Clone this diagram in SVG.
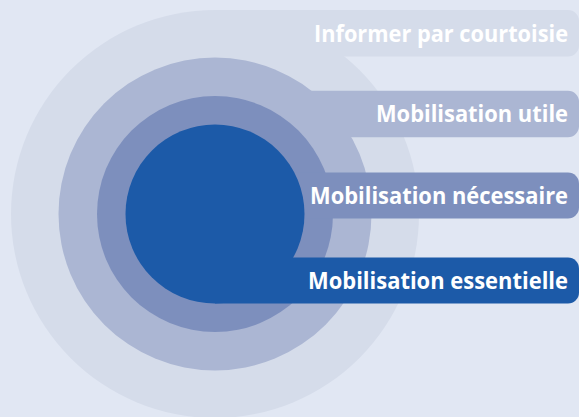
<svg xmlns="http://www.w3.org/2000/svg" width="579" height="417" viewBox="0 0 579 417">
  <style>
    .lvl1 { fill: #d5dcea; }
    .lvl2 { fill: #abb6d3; }
    .lvl3 { fill: #7d8fbd; }
    .lvl4 { fill: #1c5aa8; }
    .label { font-family: "Open Sans", "Liberation Sans", sans-serif; font-weight: bold; font-size: 22.5px; fill: #ffffff; text-anchor: end; }
    .label.short { font-size: 23px; }
  </style>
  <rect x="0" y="0" width="579" height="417" fill="#e1e7f3"/>

  <!-- outermost level: disc plus a tab running to the right edge -->
  <g id="informer">
    <circle class="lvl1" cx="215" cy="214" r="204"/>
    <path class="lvl1" d="M215,10 H568 A11,11 0 0 1 579,21 V45.5 A11,11 0 0 1 568,56.5 H215 Z"/>
    <text class="label" x="568" y="41.7" textLength="254" lengthAdjust="spacingAndGlyphs">Informer par courtoisie</text>
  </g>

  <g id="utile">
    <circle class="lvl2" cx="215" cy="214" r="156.5"/>
    <path class="lvl2" d="M215,90.7 H568 A11,11 0 0 1 579,101.7 V126.3 A11,11 0 0 1 568,137.3 H215 Z"/>
    <text class="label short" x="568" y="121.7" textLength="192" lengthAdjust="spacingAndGlyphs">Mobilisation utile</text>
  </g>

  <g id="necessaire">
    <circle class="lvl3" cx="215" cy="214" r="118"/>
    <path class="lvl3" d="M215,172.6 H568 A11,11 0 0 1 579,183.6 V207.5 A11,11 0 0 1 568,218.5 H215 Z"/>
    <text class="label" x="568" y="204" textLength="258" lengthAdjust="spacingAndGlyphs">Mobilisation nécessaire</text>
  </g>

  <!-- innermost level -->
  <g id="essentielle">
    <circle class="lvl4" cx="215" cy="214" r="89.5"/>
    <path class="lvl4" d="M215,257.5 H568 A11,11 0 0 1 579,268.5 V292.5 A11,11 0 0 1 568,303.5 H215 Z"/>
    <text class="label" x="568" y="289.3" textLength="260" lengthAdjust="spacingAndGlyphs">Mobilisation essentielle</text>
  </g>

  <g id="connectors"/>
</svg>
